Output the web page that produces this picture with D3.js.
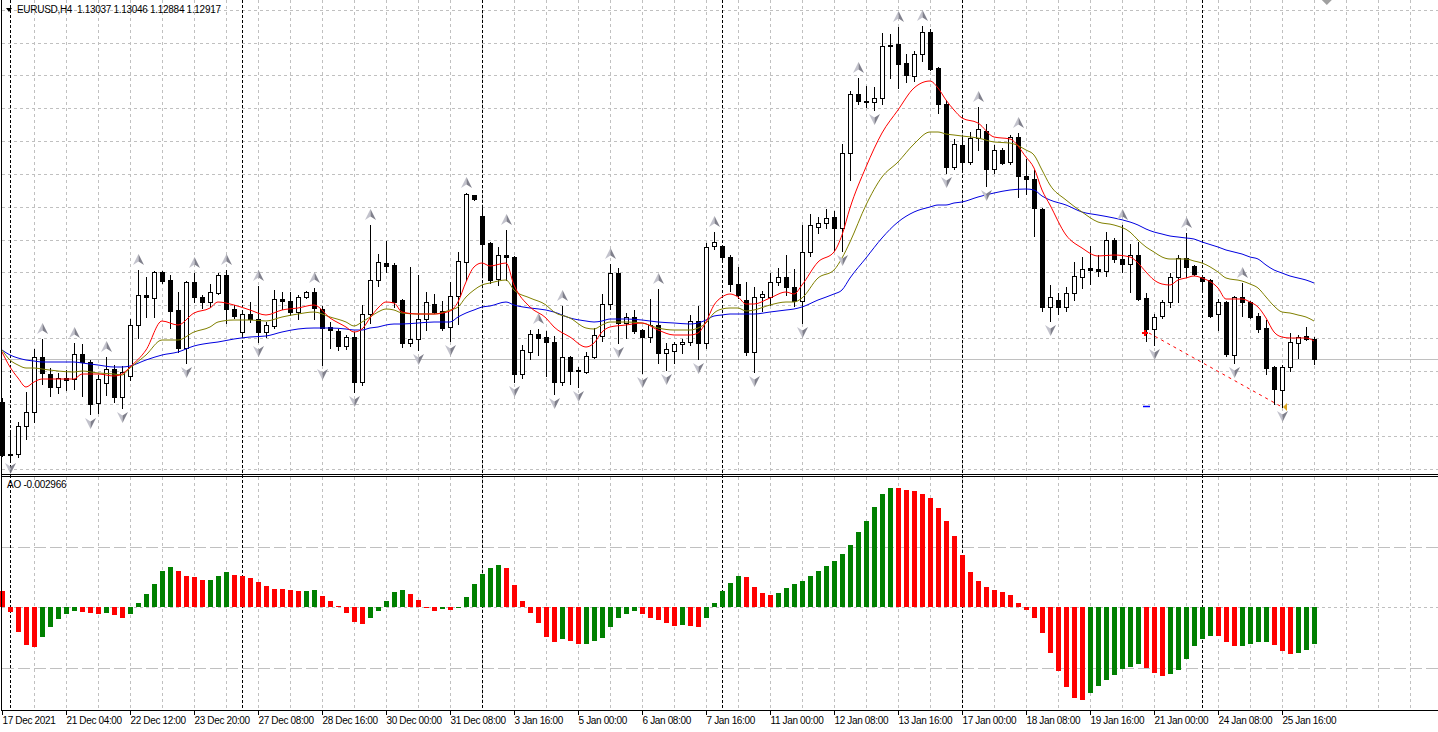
<!DOCTYPE html>
<html><head><meta charset="utf-8">
<script src="https://cdn.jsdelivr.net/npm/d3@7"></script>
<style>
html,body{margin:0;padding:0;background:#fff;overflow:hidden}
svg{display:block;font-family:"Liberation Sans",Arial,sans-serif}
</style>
</head><body>
<svg id="chart" width="1438" height="732"></svg>
<script>
// ---------------- DATA ----------------
const symbol = "EURUSD", timeframe = "H4";
const opens = [
1.12659,1.12341,1.12347,1.12515,1.12599,1.12929,1.12827,1.12749,1.12803,1.12797,
1.12947,1.12899,1.12653,1.12773,1.12857,1.12689,1.12815,1.13121,1.13301,1.13283,
1.13439,1.13391,1.13211,1.12983,1.13379,1.13289,1.13259,1.13313,1.13421,1.13217,
1.13079,1.13187,1.13157,1.13079,1.13115,1.13277,1.13265,1.13199,1.13289,1.13319,
1.13217,1.13109,1.13085,1.12995,1.13049,1.12779,1.13187,1.13391,1.13493,1.13481,
1.13271,1.13013,1.13037,1.13157,1.13247,1.13205,1.13109,1.13295,1.13499,1.13901,
1.13775,1.13613,1.13397,1.13541,1.13529,1.12827,1.12959,1.13067,1.13049,1.13019,
1.12779,1.12929,1.12845,1.12839,1.12929,1.13055,1.13247,1.13433,1.13133,1.13169,
1.13091,1.13049,1.13121,1.12953,1.12965,1.13007,1.13019,1.13145,1.13013,1.13595,
1.13595,1.13529,1.13367,1.13271,1.12959,1.13289,1.13289,1.13379,1.13409,1.13349,
1.13265,1.13559,1.13709,1.13733,1.13769,1.13703,1.14153,1.14507,1.14465,1.14459,
1.14483,1.14801,1.14807,1.14693,1.14615,1.14747,1.14879,1.14663,1.14447,1.14069,
1.14201,1.14099,1.14243,1.14285,1.14057,1.14171,1.14099,1.14249,1.14015,1.13997,
1.13817,1.13229,1.13271,1.13229,1.13313,1.13409,1.13463,1.13457,1.13445,1.13631,
1.13517,1.13487,1.13541,1.13283,1.13097,1.13175,1.13259,1.13409,1.13523,1.13475,
1.13409,1.13391,1.13187,1.13259,1.12941,1.13289,1.13259,1.13175,1.13103,1.12869,
1.12731,1.12869,1.13013,1.13055,1.13037];
const highs = [
1.12683,1.12473,1.12539,1.12719,1.12977,1.13037,1.12863,1.12833,1.12851,1.13013,
1.13007,1.12911,1.12821,1.12929,1.12881,1.12875,1.13157,1.13451,1.13409,1.13445,
1.13445,1.13421,1.13319,1.13385,1.13433,1.13301,1.13367,1.13433,1.13451,1.13241,
1.13211,1.13259,1.13355,1.13139,1.13331,1.13319,1.13319,1.13301,1.13325,1.13343,
1.13235,1.13139,1.13097,1.13061,1.13079,1.13241,1.13721,1.13547,1.13625,1.13493,
1.13277,1.13469,1.13421,1.13319,1.13307,1.13265,1.13379,1.13559,1.13913,1.13901,
1.13835,1.13619,1.13589,1.13691,1.13535,1.13001,1.13091,1.13097,1.13085,1.13055,
1.13235,1.12935,1.12869,1.12959,1.13103,1.13307,1.13487,1.13463,1.13193,1.13211,
1.13097,1.13277,1.13337,1.13013,1.13019,1.13037,1.13181,1.13235,1.13613,1.13679,
1.13601,1.13541,1.13469,1.13379,1.13349,1.13325,1.13433,1.13463,1.13541,1.13457,
1.13721,1.13787,1.13769,1.13817,1.13805,1.14207,1.14525,1.14603,1.14555,1.14549,
1.14873,1.14867,1.14909,1.14747,1.14765,1.14915,1.14897,1.14669,1.14471,1.14237,
1.14243,1.14279,1.14429,1.14327,1.14201,1.14183,1.14261,1.14273,1.14117,1.14051,
1.13823,1.13361,1.13313,1.13349,1.13499,1.13529,1.13595,1.13541,1.13679,1.13643,
1.13721,1.13607,1.13619,1.13313,1.13187,1.13271,1.13433,1.13541,1.13673,1.13481,
1.13415,1.13397,1.13277,1.13265,1.13295,1.13373,1.13265,1.13193,1.13151,1.12875,
1.12881,1.13073,1.13061,1.13109,1.13046];
const lows = [
1.12335,1.12317,1.12329,1.12437,1.12539,1.12767,1.12695,1.12713,1.12731,1.12737,
1.12695,1.12587,1.12593,1.12701,1.12659,1.12623,1.12791,1.13043,1.13169,1.13169,
1.13373,1.13103,1.12959,1.12893,1.13259,1.13223,1.13229,1.13307,1.13133,1.13163,
1.13061,1.13139,1.13019,1.13049,1.13103,1.13217,1.13181,1.13157,1.13283,1.13157,
1.12881,1.12983,1.12971,1.12977,1.12719,1.12761,1.13133,1.13355,1.13439,1.13229,
1.12989,1.12995,1.12971,1.13091,1.13193,1.13091,1.13025,1.13127,1.13391,1.13871,
1.13421,1.13373,1.13361,1.13391,1.12779,1.12803,1.12917,1.12941,1.12815,1.12707,
1.12761,1.12767,1.12749,1.12833,1.12923,1.13025,1.13217,1.13013,1.13043,1.13073,
1.12833,1.13019,1.12893,1.12851,1.12893,1.12953,1.13001,1.12917,1.12983,1.13577,
1.13505,1.13325,1.13283,1.12941,1.12839,1.13205,1.13241,1.13361,1.13301,1.13235,
1.13133,1.13535,1.13673,1.13703,1.13571,1.13565,1.13991,1.14447,1.14429,1.14411,
1.14447,1.14603,1.14543,1.14579,1.14585,1.14705,1.14651,1.14393,1.14033,1.14057,
1.14039,1.14087,1.14171,1.13955,1.14033,1.14087,1.14087,1.13889,1.13907,1.13655,
1.13205,1.13145,1.13187,1.13205,1.13271,1.13343,1.13367,1.13415,1.13415,1.13499,
1.13439,1.13319,1.13271,1.13025,1.13001,1.13163,1.13229,1.13259,1.13409,1.13421,
1.13319,1.13169,1.13091,1.12935,1.12893,1.13175,1.13163,1.13079,1.12827,1.12647,
1.12629,1.12845,1.12923,1.13031,1.12884];
const closes = [
1.12341,1.12347,1.12515,1.12599,1.12929,1.12833,1.12749,1.12803,1.12791,1.12947,
1.12899,1.12647,1.12797,1.12857,1.12689,1.12839,1.13121,1.13301,1.13289,1.13439,
1.13385,1.13205,1.12983,1.13379,1.13289,1.13259,1.13319,1.13421,1.13217,1.13175,
1.13187,1.13157,1.13079,1.13121,1.13277,1.13265,1.13199,1.13289,1.13319,1.13223,
1.13103,1.13091,1.12995,1.13049,1.12779,1.13187,1.13391,1.13499,1.13475,1.13259,
1.13013,1.13037,1.13157,1.13259,1.13199,1.13103,1.13295,1.13505,1.13907,1.13877,
1.13607,1.13391,1.13541,1.13529,1.12827,1.12971,1.13067,1.13043,1.13019,1.12779,
1.12929,1.12845,1.12851,1.12935,1.13061,1.13247,1.13433,1.13133,1.13169,1.13085,
1.13049,1.13121,1.12953,1.12977,1.13007,1.13019,1.13145,1.13013,1.13589,1.13619,
1.13529,1.13367,1.13301,1.12959,1.13289,1.13307,1.13379,1.13409,1.13349,1.13265,
1.13559,1.13721,1.13733,1.13763,1.13703,1.14153,1.14507,1.14465,1.14459,1.14483,
1.14795,1.14795,1.14687,1.14621,1.14747,1.14879,1.14657,1.14447,1.14069,1.14207,
1.14099,1.14243,1.14297,1.14057,1.14171,1.14093,1.14249,1.14015,1.13997,1.13823,
1.13229,1.13289,1.13229,1.13313,1.13415,1.13457,1.13451,1.13445,1.13631,1.13517,
1.13487,1.13541,1.13277,1.13097,1.13169,1.13259,1.13409,1.13523,1.13469,1.13427,
1.13385,1.13175,1.13259,1.12947,1.13289,1.13259,1.13169,1.13097,1.12863,1.12737,
1.12869,1.13019,1.13049,1.13037,1.12917];

const aoValues = [
0.00131,-0.00038,-0.00204,-0.00308,-0.00327,-0.00243,-0.00161,-0.00096,-0.00057,-0.00030,
-0.00038,-0.00047,-0.00057,-0.00047,-0.00063,-0.00087,-0.00057,0.00033,0.00106,0.00196,
0.00302,0.00335,0.00302,0.00261,0.00253,0.00221,0.00223,0.00261,0.00294,0.00270,
0.00261,0.00245,0.00212,0.00172,0.00155,0.00154,0.00139,0.00131,0.00135,0.00139,
0.00090,0.00049,0.00008,-0.00047,-0.00120,-0.00139,-0.00087,-0.00030,0.00049,0.00123,
0.00139,0.00106,0.00057,-0.00006,-0.00030,-0.00014,-0.00022,-0.00002,0.00082,0.00190,
0.00272,0.00321,0.00346,0.00321,0.00182,0.00051,-0.00043,-0.00125,-0.00243,-0.00280,
-0.00259,-0.00272,-0.00300,-0.00298,-0.00272,-0.00251,-0.00161,-0.00084,-0.00051,-0.00027,
-0.00051,-0.00084,-0.00104,-0.00125,-0.00153,-0.00141,-0.00150,-0.00161,-0.00084,0.00035,
0.00133,0.00199,0.00259,0.00248,0.00166,0.00117,0.00100,0.00117,0.00158,0.00190,
0.00215,0.00256,0.00297,0.00337,0.00378,0.00435,0.00509,0.00615,0.00713,0.00828,
0.00934,0.00980,0.00978,0.00967,0.00958,0.00934,0.00901,0.00819,0.00713,0.00583,
0.00427,0.00288,0.00215,0.00166,0.00141,0.00125,0.00100,0.00035,-0.00019,-0.00084,
-0.00207,-0.00378,-0.00525,-0.00656,-0.00746,-0.00757,-0.00705,-0.00648,-0.00599,-0.00558,
-0.00509,-0.00488,-0.00468,-0.00496,-0.00542,-0.00566,-0.00550,-0.00517,-0.00427,-0.00321,
-0.00256,-0.00231,-0.00233,-0.00280,-0.00321,-0.00319,-0.00297,-0.00288,-0.00280,-0.00305,
-0.00362,-0.00386,-0.00378,-0.00346,-0.002966];

// moving averages, sampled at these bar indices
const maIdx = [
0,1,2,3,4,5,7,9,10,12,
14,15,16,18,20,22,24,26,27,29,
31,33,35,37,39,41,43,44,45,46,
47,48,49,50,52,54,56,57,58,59,
60,61,63,64,66,68,69,71,73,74,
75,76,78,80,82,84,86,87,88,89,
90,91,92,93,94,96,98,99,100,102,
104,105,106,108,110,112,114,116,117,118,
119,120,122,124,126,128,129,130,131,133,
135,137,139,141,142,143,144,145,146,147,
148,149,150,152,153,155,156,157,158,159,
160,161,162,163,164];
const maRed = [
1.12959,1.12869,1.12803,1.12749,1.12779,1.12797,1.12797,1.12797,1.12827,1.12827,
1.12815,1.12827,1.12869,1.12971,1.13145,1.13121,1.13193,1.13223,1.13259,1.13241,
1.13211,1.13181,1.13211,1.13223,1.13241,1.13163,1.13109,1.13079,1.13097,1.13163,
1.13223,1.13259,1.13253,1.13199,1.13187,1.13187,1.13205,1.13259,1.13379,1.13469,
1.13493,1.13475,1.13493,1.13361,1.13229,1.13163,1.13109,1.13049,1.12989,1.13013,
1.13079,1.13109,1.13121,1.13133,1.13091,1.13061,1.13061,1.13073,1.13139,1.13241,
1.13289,1.13307,1.13289,1.13247,1.13247,1.13283,1.13319,1.13307,1.13361,1.13499,
1.13559,1.13661,1.13823,1.14069,1.14273,1.14411,1.14543,1.14585,1.14543,1.14471,
1.14411,1.14363,1.14333,1.14249,1.14237,1.14129,1.14063,1.13931,1.13841,1.13661,
1.13583,1.13535,1.13541,1.13529,1.13493,1.13439,1.13391,1.13367,1.13361,1.13391,
1.13403,1.13415,1.13403,1.13343,1.13277,1.13277,1.13259,1.13229,1.13163,1.13079,
1.13049,1.13043,1.13043,1.13043,1.13025];
const maOlive = [
1.12971,1.12911,1.12881,1.12863,1.12863,1.12857,1.12845,1.12839,1.12845,1.12833,
1.12827,1.12821,1.12863,1.12941,1.13031,1.13031,1.13079,1.13109,1.13139,1.13151,
1.13151,1.13145,1.13169,1.13187,1.13199,1.13169,1.13139,1.13115,1.13139,1.13169,
1.13199,1.13217,1.13211,1.13193,1.13187,1.13187,1.13211,1.13229,1.13289,1.13331,
1.13361,1.13373,1.13391,1.13331,1.13283,1.13241,1.13199,1.13163,1.13103,1.13097,
1.13121,1.13139,1.13139,1.13133,1.13103,1.13091,1.13091,1.13103,1.13133,1.13193,
1.13217,1.13223,1.13223,1.13205,1.13211,1.13241,1.13259,1.13259,1.13283,1.13403,
1.13451,1.13523,1.13619,1.13841,1.14009,1.14099,1.14207,1.14279,1.14279,1.14267,
1.14261,1.14255,1.14243,1.14219,1.14213,1.14171,1.14141,1.14051,1.13961,1.13871,
1.13799,1.13739,1.13721,1.13679,1.13631,1.13589,1.13559,1.13529,1.13517,1.13517,
1.13517,1.13505,1.13493,1.13439,1.13403,1.13385,1.13367,1.13343,1.13289,1.13235,
1.13199,1.13193,1.13181,1.13169,1.13145];
const maBlue = [
1.12971,1.12941,1.12923,1.12911,1.12905,1.12899,1.12899,1.12899,1.12893,1.12881,
1.12869,1.12869,1.12875,1.12911,1.12941,1.12959,1.12995,1.13013,1.13019,1.13037,
1.13049,1.13055,1.13079,1.13097,1.13103,1.13103,1.13097,1.13091,1.13091,1.13103,
1.13109,1.13121,1.13127,1.13127,1.13133,1.13139,1.13139,1.13169,1.13193,1.13211,
1.13229,1.13235,1.13259,1.13241,1.13223,1.13211,1.13199,1.13163,1.13145,1.13139,
1.13145,1.13157,1.13157,1.13151,1.13139,1.13133,1.13127,1.13133,1.13151,1.13175,
1.13181,1.13187,1.13187,1.13187,1.13187,1.13199,1.13211,1.13217,1.13229,1.13271,
1.13307,1.13331,1.13403,1.13523,1.13643,1.13739,1.13799,1.13829,1.13841,1.13841,
1.13853,1.13859,1.13889,1.13913,1.13931,1.13937,1.13931,1.13895,1.13871,1.13841,
1.13799,1.13781,1.13763,1.13739,1.13721,1.13697,1.13679,1.13667,1.13655,1.13649,
1.13643,1.13637,1.13619,1.13589,1.13571,1.13547,1.13529,1.13517,1.13481,1.13451,
1.13433,1.13415,1.13403,1.13391,1.13373];

const fractalUp = [5,9,13,17,24,28,32,39,46,58,63,67,70,76,82,89,107,112,115,122,127,140,148,155];
const fractalDown = [1,11,15,23,32,40,44,52,56,64,69,72,77,80,83,87,94,100,105,109,118,123,131,144,154,160];
const weekStarts = [1,30,60,90,120,150];
const timeLabels = ["17 Dec 2021","21 Dec 04:00","22 Dec 12:00","23 Dec 20:00","27 Dec 08:00",
  "28 Dec 16:00","30 Dec 00:00","31 Dec 08:00","3 Jan 16:00","5 Jan 00:00","6 Jan 08:00",
  "7 Jan 16:00","11 Jan 00:00","12 Jan 08:00","13 Jan 16:00","17 Jan 00:00","18 Jan 08:00",
  "19 Jan 16:00","21 Jan 00:00","24 Jan 08:00","25 Jan 16:00"];
const timeLabelBars = [0,8,16,24,32,40,48,56,64,72,80,88,96,104,112,120,128,136,144,152,160];
const trendLine = [{bar:143, price:1.13073},{bar:160, price:1.12629}];
const blueMark = {bar:143, price:1.12635};
const aoLevels = [-0.005, 0.005];

// ---------------- LAYOUT ----------------
const W = 1438, H = 732;
const mainBottom = 474, aoTop = 477, aoBottom = 710;
const n = closes.length;
const x = d3.scaleLinear().domain([0, n - 1]).range([2, 1314]);
const y = d3.scaleLinear().domain([1.12917, 1.15071]).range([359, 0]);
const yAO = d3.scaleLinear().domain([-0.005, 0.005]).range([668.3, 546.5]);
const gridStep = 0.001968, gridAnchor = 1.134372;

const svg = d3.select("#chart");
svg.append("rect").attr("width", W).attr("height", H).attr("fill", "#fff");
const defs = svg.append("defs");
defs.append("clipPath").attr("id","clipMain").append("rect").attr("x",0).attr("y",0).attr("width",W).attr("height",mainBottom);
defs.append("clipPath").attr("id","clipAO").append("rect").attr("x",0).attr("y",aoTop).attr("width",W).attr("height",aoBottom-aoTop);

const gridColor = "#c0c0c0";
const px = v => Math.round(v) + 0.5;

// vertical grid (every 4 bars)
const vGrid = d3.range(4, 180, 4);
const gGrid = svg.append("g").attr("shape-rendering","crispEdges");
vGrid.forEach(b => {
  [[0, mainBottom], [aoTop, aoBottom]].forEach(([a, z]) => {
    gGrid.append("line").attr("x1", px(x(b))).attr("x2", px(x(b))).attr("y1", a).attr("y2", z)
      .attr("stroke", gridColor).attr("stroke-dasharray", "3,3");
  });
});
// horizontal price grid
const priceTicks = d3.range(-12, 12).map(k => gridAnchor + k * gridStep).filter(p => y(p) > 2 && y(p) < mainBottom - 1);
priceTicks.forEach(p => {
  gGrid.append("line").attr("x1", 2).attr("x2", W).attr("y1", px(y(p))).attr("y2", px(y(p)))
    .attr("stroke", gridColor).attr("stroke-dasharray", "3,3");
});
// AO levels and zero line
aoLevels.forEach(v => {
  gGrid.append("line").attr("x1", 2).attr("x2", W).attr("y1", px(yAO(v))).attr("y2", px(yAO(v)))
    .attr("stroke", gridColor).attr("stroke-dasharray", "12,4");
});
gGrid.append("line").attr("x1", 2).attr("x2", W).attr("y1", px(yAO(0))).attr("y2", px(yAO(0)))
  .attr("stroke", gridColor).attr("stroke-dasharray", "3,3");

// week separators
weekStarts.forEach(b => {
  gGrid.append("line").attr("x1", px(x(b))).attr("x2", px(x(b))).attr("y1", 0).attr("y2", aoBottom)
    .attr("stroke", "#000").attr("stroke-dasharray", "3,2");
});

// bid line
const last = n - 1;
gGrid.append("line").attr("x1", 2).attr("x2", W).attr("y1", px(y(closes[last]))).attr("y2", px(y(closes[last])))
  .attr("stroke", gridColor);

// ---------------- CANDLES ----------------
const gMain = svg.append("g").attr("clip-path", "url(#clipMain)");
const gC = gMain.append("g").attr("shape-rendering", "crispEdges");
for (let i = 0; i < n; i++) {
  const cx = Math.round(x(i));
  const o = opens[i], c = closes[i], h = highs[i], l = lows[i];
  gC.append("line").attr("x1", cx + 0.5).attr("x2", cx + 0.5)
    .attr("y1", Math.round(y(h))).attr("y2", Math.round(y(l)) + 1).attr("stroke", "#000");
  const top = Math.round(y(Math.max(o, c))), bot = Math.round(y(Math.min(o, c)));
  if (c >= o) {
    gC.append("rect").attr("x", cx - 1.5).attr("y", top + 0.5).attr("width", 4).attr("height", Math.max(0, bot - top))
      .attr("fill", "#fff").attr("stroke", "#000");
  } else {
    gC.append("rect").attr("x", cx - 2).attr("y", top).attr("width", 5).attr("height", Math.max(1, bot - top + 1))
      .attr("fill", "#000");
  }
}

// moving averages
const maLine = d3.line().x(d => x(d[0])).y(d => y(d[1])).curve(d3.curveMonotoneX);
[[maBlue, "#0000e0"], [maOlive, "#808000"], [maRed, "#ff0000"]].forEach(([vals, col]) => {
  gMain.append("path").attr("d", maLine(maIdx.map((b, k) => [b, vals[k]])))
    .attr("fill", "none").attr("stroke", col).attr("stroke-width", 1);
});

// trend line
gMain.append("line")
  .attr("x1", x(trendLine[0].bar) + 3).attr("y1", y(trendLine[0].price))
  .attr("x2", x(trendLine[1].bar)).attr("y2", y(trendLine[1].price))
  .attr("stroke", "#ff0000").attr("stroke-dasharray", "3,4");
const tx0 = x(trendLine[0].bar), ty0 = y(trendLine[0].price);
gMain.append("path").attr("d", `M${tx0-4},${ty0} H${tx0+2} M${tx0-1},${ty0-3} V${ty0+3}`)
  .attr("stroke", "#ff0000").attr("stroke-width", 2);
const tx1 = x(trendLine[1].bar), ty1 = y(trendLine[1].price);
gMain.append("path").attr("d", `M${tx1+1},${ty1} L${tx1+5},${ty1-4} L${tx1+5},${ty1+4} Z`).attr("fill", "#daa520");
gMain.append("line").attr("x1", x(blueMark.bar) - 3).attr("x2", x(blueMark.bar) + 4)
  .attr("y1", px(y(blueMark.price))).attr("y2", px(y(blueMark.price))).attr("stroke", "#0000ff").attr("stroke-width", 1.5);

// fractals (grey 3D arrows)
function arrow(g, cx, cy, up) {
  const s = up ? 1 : -1;
  g.append("path").attr("d", `M${cx},${cy - 6 * s} L${cx - 5.5},${cy + 5 * s} L${cx},${cy + 1.5 * s} Z`).attr("fill", "#c2c2cc");
  g.append("path").attr("d", `M${cx},${cy - 6 * s} L${cx + 5.5},${cy + 5 * s} L${cx},${cy + 1.5 * s} Z`).attr("fill", "#80808c");
}
const gF = gMain.append("g");
fractalUp.forEach(b => arrow(gF, x(b) + 0.5, y(highs[b]) - 10, true));
fractalDown.forEach(b => arrow(gF, x(b) + 0.5, y(lows[b]) + 9, false));

// chart shift marker
svg.append("path").attr("d", `M${x(n + 0.6) - 5},0 L${x(n + 0.6) + 5},0 L${x(n + 0.6)},5 Z`).attr("fill", "#a0a0a0");

// ---------------- AO ----------------
const gAO = svg.append("g").attr("clip-path", "url(#clipAO)").attr("shape-rendering", "crispEdges");
aoValues.forEach((v, i) => {
  const up = i > 0 && v > aoValues[i - 1];
  const y0 = Math.round(yAO(0)), y1 = Math.round(yAO(v));
  gAO.append("rect").attr("x", Math.round(x(i)) - 2).attr("width", 5)
    .attr("y", Math.min(y0, y1)).attr("height", Math.max(1, Math.abs(y1 - y0)))
    .attr("fill", up ? "#008000" : "#ff0000");
});

// ---------------- FRAME ----------------
const gFrame = svg.append("g").attr("shape-rendering", "crispEdges").attr("stroke", "#000");
gFrame.append("line").attr("x1", 1.5).attr("x2", 1.5).attr("y1", 0).attr("y2", aoBottom + 1);
gFrame.append("line").attr("x1", 1).attr("x2", W).attr("y1", 474.5).attr("y2", 474.5);
gFrame.append("line").attr("x1", 1).attr("x2", W).attr("y1", 476.5).attr("y2", 476.5);
gFrame.append("line").attr("x1", 1).attr("x2", W).attr("y1", 710.5).attr("y2", 710.5);

// time axis
const gT = svg.append("g");
timeLabelBars.forEach((b, k) => {
  const tx = Math.round(x(b));
  gT.append("line").attr("x1", tx + 0.5).attr("x2", tx + 0.5).attr("y1", 711).attr("y2", 715)
    .attr("stroke", "#000").attr("shape-rendering", "crispEdges");
  gT.append("text").attr("x", tx + 0.5).attr("y", 724).attr("font-size", 10).attr("letter-spacing", "-0.35")
    .attr("fill", "#000").text(timeLabels[k]);
});

// header texts
svg.append("path").attr("d", "M6,8 L12,8 L9,12 Z").attr("fill", "#000");
svg.append("text").attr("x", 17).attr("y", 13).attr("font-size", 10).attr("letter-spacing", "-0.3")
  .style("white-space", "pre").attr("fill", "#000")
  .text(`${symbol},${timeframe}  ${opens[last].toFixed(5)} ${highs[last].toFixed(5)} ${lows[last].toFixed(5)} ${closes[last].toFixed(5)}`);
svg.append("text").attr("x", 7).attr("y", 488).attr("font-size", 10).attr("letter-spacing", "-0.25")
  .attr("fill", "#000").text(`AO ${aoValues[last].toFixed(6)}`);
</script>
</body></html>
